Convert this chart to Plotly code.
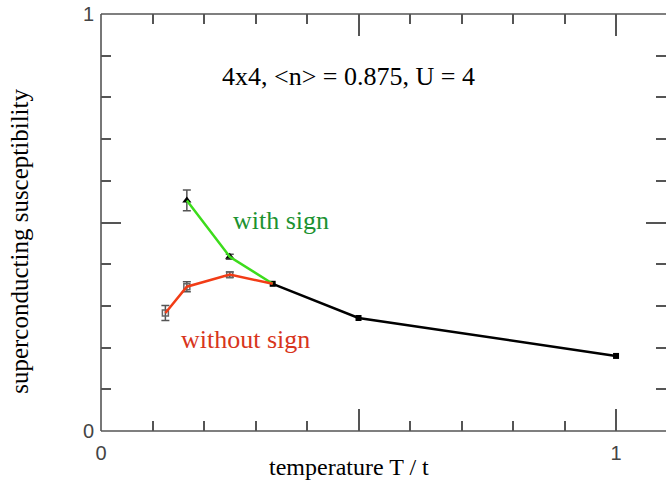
import plotly.graph_objects as go

# Temperatures T/t (inverse of beta = 8, 6, 4, 3, 2, 1)
t_without = [1/8, 1/6, 1/4, 1/3]
chi_without = [0.283, 0.346, 0.375, 0.353]
err_without = [0.018, 0.012, 0.006, 0.004]

t_with = [1/6, 1/4, 1/3]
chi_with = [0.553, 0.418, 0.353]
err_with = [0.025, 0.006, 0.004]

t_high = [1/3, 1/2, 1.0]
chi_high = [0.353, 0.271, 0.180]

x_tick_vals = [0, 0.5, 1]
x_tick_text = ["0", "", "1"]
y_tick_vals = [0, 0.5, 1]
y_tick_text = ["0", "", "1"]

GREEN_LINE = "#3ddc1c"
RED_LINE = "#f23c16"
AXIS = "#555555"
SERIF = "Liberation Serif, Times New Roman, serif"
TICKFONT = dict(family="Liberation Sans, Arial, sans-serif", size=20, color="#444444")

fig = go.Figure()

# measured points with error bars
fig.add_trace(go.Scatter(
    x=t_without[:3], y=chi_without[:3], mode="markers",
    marker=dict(symbol="square-open", size=6, color="#666666", line=dict(width=1.5)),
    error_y=dict(type="data", array=err_without[:3], color="#555555", thickness=1.5, width=4),
    showlegend=False, hoverinfo="skip"))
fig.add_trace(go.Scatter(
    x=t_with[:2], y=chi_with[:2], mode="markers",
    marker=dict(symbol="triangle-up", size=8, color="black"),
    error_y=dict(type="data", array=err_with[:2], color="#555555", thickness=1.5, width=4),
    showlegend=False, hoverinfo="skip"))

# high-temperature branch, where both estimates agree
fig.add_trace(go.Scatter(
    x=t_high, y=chi_high, mode="lines+markers",
    line=dict(color="black", width=2.5),
    marker=dict(symbol="square", size=6, color="black"),
    showlegend=False, hoverinfo="skip"))

# low-temperature branches
fig.add_trace(go.Scatter(
    x=t_with, y=chi_with, mode="lines",
    line=dict(color=GREEN_LINE, width=2.5),
    showlegend=False, hoverinfo="skip"))
fig.add_trace(go.Scatter(
    x=t_without, y=chi_without, mode="lines",
    line=dict(color=RED_LINE, width=2.5),
    showlegend=False, hoverinfo="skip"))

annotations = [
    dict(x=0.481, y=0.85, xref="x", yref="y", text="4x4, &lt;n&gt; = 0.875, U = 4",
         showarrow=False, font=dict(family=SERIF, size=26, color="black")),
    dict(x=0.35, y=0.505, xref="x", yref="y", text="with sign",
         showarrow=False, font=dict(family=SERIF, size=26, color="#1c9230")),
    dict(x=0.28, y=0.22, xref="x", yref="y", text="without sign",
         showarrow=False, font=dict(family=SERIF, size=26, color="#d8351c")),
    dict(x=-0.1434, y=0.456, xref="paper", yref="paper", text="superconducting susceptibility",
         textangle=-90, showarrow=False, xanchor="center", yanchor="middle",
         font=dict(family=SERIF, size=25, color="black")),
    dict(x=0.482, y=-0.086, xref="x", yref="paper", text="temperature T / t",
         showarrow=False, xanchor="center", yanchor="middle",
         font=dict(family=SERIF, size=24, color="black")),
]

# frame: left, bottom and top edges (right edge lies at the page border)
shapes = [
    dict(type="line", xref="paper", yref="paper", x0=0, x1=0, y0=0, y1=1,
         line=dict(color=AXIS, width=1.6)),
    dict(type="line", xref="paper", yref="paper", x0=0, x1=1, y0=0, y1=0,
         line=dict(color=AXIS, width=1.6)),
    dict(type="line", xref="paper", yref="paper", x0=0, x1=1, y0=1, y1=1,
         line=dict(color=AXIS, width=1.6)),
]

fig.update_layout(
    width=666, height=484,
    margin=dict(l=101, r=0, t=14, b=53),
    paper_bgcolor="white", plot_bgcolor="white",
    annotations=annotations, shapes=shapes,
    xaxis=dict(
        range=[0, 1.097], showgrid=False, zeroline=False, showline=False,
        mirror="ticks", ticks="inside", ticklen=22, tickwidth=1.5, tickcolor=AXIS,
        tickvals=x_tick_vals, ticktext=x_tick_text, tickfont=TICKFONT,
        ticklabelstandoff=8,
        minor=dict(dtick=0.1, ticks="inside", ticklen=10, tickwidth=1.5, tickcolor=AXIS),
    ),
    yaxis=dict(
        range=[0, 1], showgrid=False, zeroline=False, showline=False,
        mirror="ticks", ticks="inside", ticklen=20, tickwidth=1.5, tickcolor=AXIS,
        tickvals=y_tick_vals, ticktext=y_tick_text, tickfont=TICKFONT,
        ticklabelstandoff=6,
        minor=dict(dtick=0.1, ticks="inside", ticklen=10, tickwidth=1.5, tickcolor=AXIS),
    ),
)

fig.write_html("out.html")
